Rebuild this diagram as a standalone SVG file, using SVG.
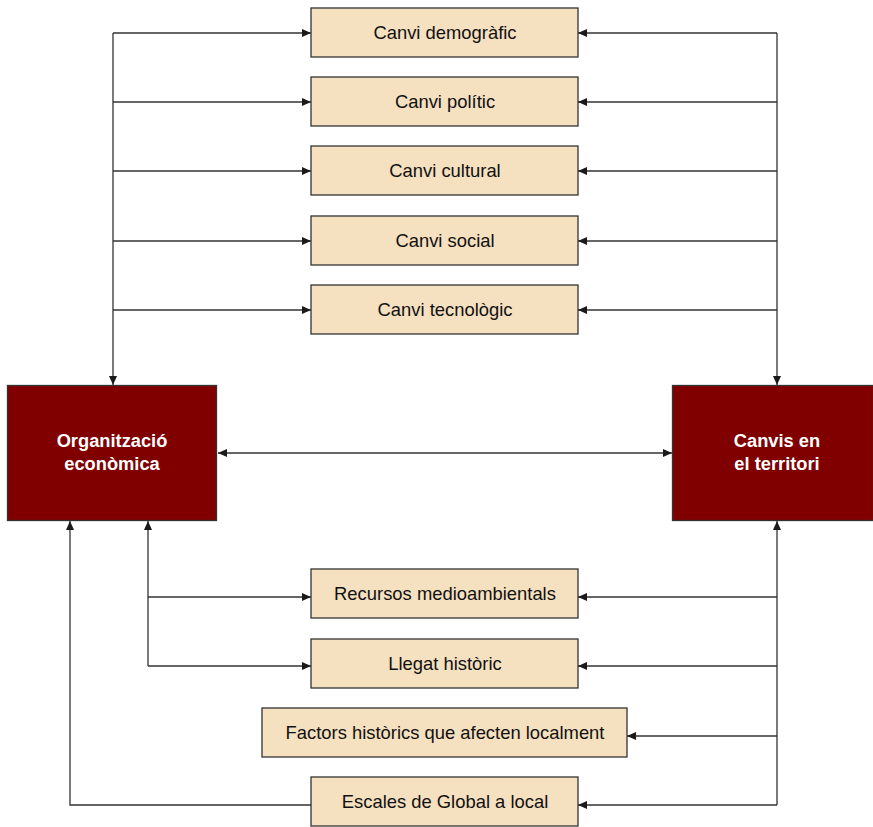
<svg xmlns="http://www.w3.org/2000/svg" width="873" height="827" viewBox="0 0 873 827">
<defs>
<marker id="ah" markerWidth="10" markerHeight="8" refX="9" refY="4" orient="auto" markerUnits="userSpaceOnUse">
<path d="M0,0 L9,4 L0,8 Z" fill="#1a1a1a"/>
</marker>
<marker id="as" markerWidth="10" markerHeight="8" refX="1" refY="4" orient="auto" markerUnits="userSpaceOnUse">
<path d="M10,0 L1,4 L10,8 Z" fill="#1a1a1a"/>
</marker>
</defs>
<style>
.b{fill:#f5e0c0;stroke:#333;stroke-width:1.3}
.d{fill:#800000;stroke:#333;stroke-width:1.3}
.t{font-family:"Liberation Sans",Arial,sans-serif;font-size:18.4px;fill:#111;text-anchor:middle}
.w{font-family:"Liberation Sans",Arial,sans-serif;font-size:18.3px;font-weight:bold;fill:#fff;text-anchor:middle}
.c{fill:none;stroke:#333;stroke-width:1.3}
.a{marker-end:url(#ah)}
</style>
<g id="connectors">
<path class="c a" d="M113,33 L113,385"/>
<path class="c a" d="M113,33 L311,33"/>
<path class="c a" d="M113,102 L311,102"/>
<path class="c a" d="M113,171 L311,171"/>
<path class="c a" d="M113,241 L311,241"/>
<path class="c a" d="M113,310 L311,310"/>
<path class="c a" d="M777,33 L777,385"/>
<path class="c a" d="M777,33 L578,33"/>
<path class="c a" d="M777,102 L578,102"/>
<path class="c a" d="M777,171 L578,171"/>
<path class="c a" d="M777,241 L578,241"/>
<path class="c a" d="M777,310 L578,310"/>
<path class="c a" d="M218,453 L672,453" marker-start="url(#as)"/>
<path class="c a" d="M148,666 L148,521"/>
<path class="c a" d="M148,597 L311,597"/>
<path class="c a" d="M148,666 L311,666"/>
<path class="c a" d="M311,805 L70,805 L70,521"/>
<path class="c a" d="M777,805 L777,521"/>
<path class="c a" d="M777,597 L578,597"/>
<path class="c a" d="M777,666 L578,666"/>
<path class="c a" d="M777,736 L627,736"/>
<path class="c a" d="M777,805 L578,805"/>
</g>
<g id="n1"><rect class="b" x="311" y="8" width="267" height="49"/><text class="t" x="445" y="39">Canvi demogràfic</text></g>
<g id="n2"><rect class="b" x="311" y="77" width="267" height="49"/><text class="t" x="445" y="108">Canvi polític</text></g>
<g id="n3"><rect class="b" x="311" y="146" width="267" height="49"/><text class="t" x="445" y="177">Canvi cultural</text></g>
<g id="n4"><rect class="b" x="311" y="216" width="267" height="49"/><text class="t" x="445" y="247">Canvi social</text></g>
<g id="n5"><rect class="b" x="311" y="285" width="267" height="49"/><text class="t" x="445" y="316">Canvi tecnològic</text></g>
<g id="org"><rect class="d" x="7.5" y="385.5" width="209" height="135"/><text class="w" x="112" y="447">Organització</text><text class="w" x="112" y="470">econòmica</text></g>
<g id="terr"><rect class="d" x="672.5" y="385.5" width="201" height="135"/><text class="w" x="777" y="447">Canvis en</text><text class="w" x="777" y="470">el territori</text></g>
<g id="n6"><rect class="b" x="311" y="569" width="267" height="49"/><text class="t" x="445" y="600">Recursos medioambientals</text></g>
<g id="n7"><rect class="b" x="311" y="639" width="267" height="49"/><text class="t" x="445" y="670">Llegat històric</text></g>
<g id="n8"><rect class="b" x="262" y="708" width="365" height="49"/><text class="t" x="445" y="739">Factors històrics que afecten localment</text></g>
<g id="n9"><rect class="b" x="311" y="777" width="267" height="49"/><text class="t" x="445" y="808">Escales de Global a local</text></g>
</svg>
